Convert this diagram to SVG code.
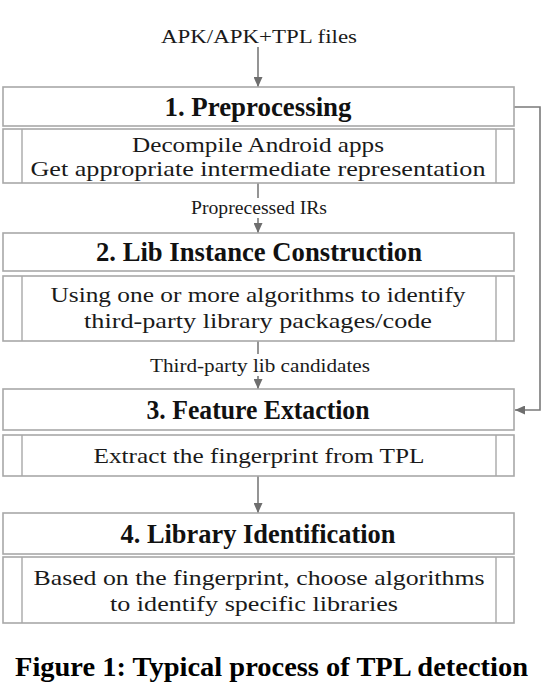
<svg xmlns="http://www.w3.org/2000/svg" width="555" height="691" viewBox="0 0 555 691">
<style>
.box{fill:#fff;stroke:#a8a8a8;stroke-width:1.6}
.div{stroke:#a8a8a8;stroke-width:1.4}
.ln{fill:none;stroke:#7a7a7a;stroke-width:1.6}
.hd{font-family:"Liberation Serif",serif;font-weight:bold;font-size:27px;fill:#111;text-anchor:middle}
.sb{font-family:"Liberation Serif",serif;font-size:22px;fill:#1a1a1a;text-anchor:middle}
.lb{font-family:"Liberation Serif",serif;font-size:18px;fill:#1a1a1a;text-anchor:middle}
.cap{font-family:"Liberation Serif",serif;font-weight:bold;font-size:27px;fill:#000;text-anchor:middle}
</style>
<defs>
<marker id="ah" markerUnits="userSpaceOnUse" markerWidth="10" markerHeight="9" refX="10" refY="4.5" orient="auto">
<path d="M0,0 L10,4.5 L0,9 z" fill="#6e6e6e"/>
</marker>
</defs>
<rect width="555" height="691" fill="#fff"/>
<g id="connectors">
<text class="lb" x="259" y="43" font-size="23" textLength="196" lengthAdjust="spacingAndGlyphs">APK/APK+TPL files</text>
<line class="ln" x1="258" y1="47" x2="258" y2="87" marker-end="url(#ah)"/>
<line class="ln" x1="258" y1="183" x2="258" y2="198"/>
<text class="lb" x="259" y="214" textLength="136" lengthAdjust="spacingAndGlyphs">Proprecessed IRs</text>
<line class="ln" x1="258" y1="218" x2="258" y2="233" marker-end="url(#ah)"/>
<line class="ln" x1="258" y1="341" x2="258" y2="354"/>
<text class="lb" x="260" y="372" textLength="220" lengthAdjust="spacingAndGlyphs">Third-party lib candidates</text>
<line class="ln" x1="258" y1="376" x2="258" y2="389" marker-end="url(#ah)"/>
<line class="ln" x1="258" y1="476" x2="258" y2="513" marker-end="url(#ah)"/>
<polyline class="ln" points="514,107 540,107 540,410 515,410" marker-end="url(#ah)"/>
</g>
<g id="n1">
<rect class="box" x="3" y="87" width="511" height="39"/>
<text class="hd" x="258" y="116" textLength="187" lengthAdjust="spacingAndGlyphs">1. Preprocessing</text>
<rect class="box" x="3" y="129" width="511" height="54"/>
<line class="div" x1="22" y1="129" x2="22" y2="183"/>
<line class="div" x1="496" y1="129" x2="496" y2="183"/>
<text class="sb" x="258" y="152" textLength="252" lengthAdjust="spacingAndGlyphs">Decompile Android apps</text>
<text class="sb" x="258" y="176" textLength="455" lengthAdjust="spacingAndGlyphs">Get appropriate intermediate representation</text>
</g>
<g id="n2">
<rect class="box" x="3" y="233" width="511" height="38"/>
<text class="hd" x="259" y="261" textLength="326" lengthAdjust="spacingAndGlyphs">2. Lib Instance Construction</text>
<rect class="box" x="3" y="276" width="511" height="65"/>
<line class="div" x1="22" y1="276" x2="22" y2="341"/>
<line class="div" x1="496" y1="276" x2="496" y2="341"/>
<text class="sb" x="258" y="302" textLength="415" lengthAdjust="spacingAndGlyphs">Using one or more algorithms to identify</text>
<text class="sb" x="258" y="328" textLength="348" lengthAdjust="spacingAndGlyphs">third-party library packages/code</text>
</g>
<g id="n3">
<rect class="box" x="3" y="389" width="511" height="41"/>
<text class="hd" x="258" y="419" textLength="223" lengthAdjust="spacingAndGlyphs">3. Feature Extaction</text>
<rect class="box" x="3" y="435" width="511" height="41"/>
<line class="div" x1="22" y1="435" x2="22" y2="476"/>
<line class="div" x1="496" y1="435" x2="496" y2="476"/>
<text class="sb" x="259" y="463" textLength="331" lengthAdjust="spacingAndGlyphs">Extract the fingerprint from TPL</text>
</g>
<g id="n4">
<rect class="box" x="3" y="513" width="511" height="41"/>
<text class="hd" x="258" y="543" textLength="275" lengthAdjust="spacingAndGlyphs">4. Library Identification</text>
<rect class="box" x="3" y="557" width="511" height="66"/>
<line class="div" x1="22" y1="557" x2="22" y2="623"/>
<line class="div" x1="496" y1="557" x2="496" y2="623"/>
<text class="sb" x="259" y="585" textLength="451" lengthAdjust="spacingAndGlyphs">Based on the fingerprint, choose algorithms</text>
<text class="sb" x="254" y="611" textLength="288" lengthAdjust="spacingAndGlyphs">to identify specific libraries</text>
</g>
<text class="cap" x="271.5" y="676" textLength="513" lengthAdjust="spacingAndGlyphs">Figure 1: Typical process of TPL detection</text>
</svg>
